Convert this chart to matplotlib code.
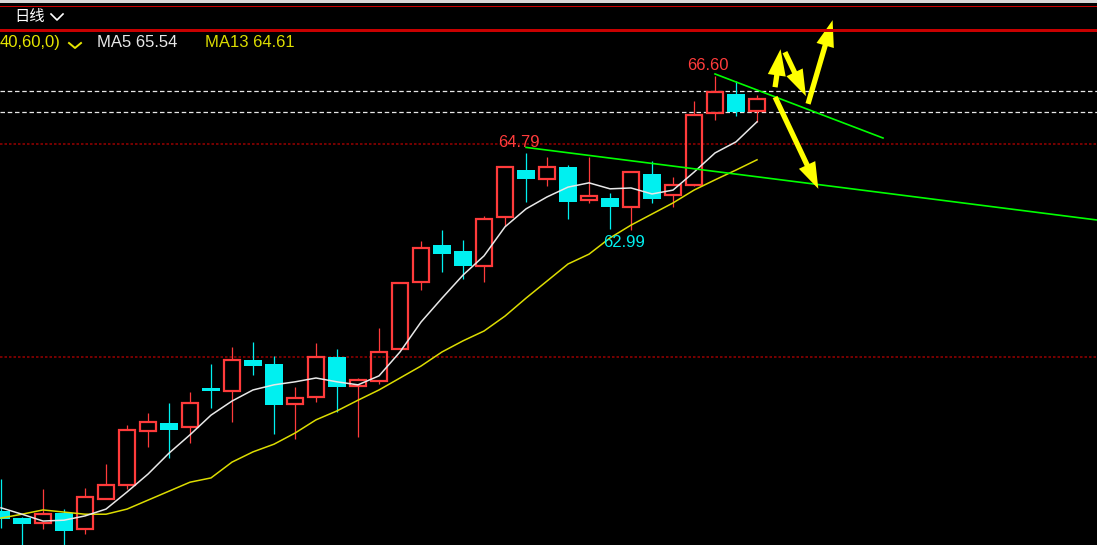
import numpy as np
import matplotlib
matplotlib.use("Agg")
import matplotlib.pyplot as plt
from matplotlib.patches import Rectangle
from matplotlib.lines import Line2D

# daily candles
opens = [56.41, 56.24, 56.12, 56.36, 55.98, 56.69, 57.01, 58.28, 58.47, 58.37,
         59.29, 59.22, 59.94, 59.85, 58.91, 59.07, 60.01, 59.33, 59.45, 60.20,
         61.77, 62.63, 62.49, 62.14, 63.29, 64.39, 64.18, 64.46, 63.69, 63.74,
         63.52, 64.30, 63.81, 64.04, 65.73, 66.17, 65.77]
highs = [57.15, 56.26, 56.92, 56.45, 56.94, 57.51, 58.42, 58.70, 58.93, 59.19,
         59.85, 60.25, 60.36, 60.04, 59.31, 60.34, 60.20, 59.52, 60.69, 61.77,
         62.73, 62.99, 62.75, 63.31, 64.46, 64.79, 64.70, 64.51, 64.70, 63.85,
         64.37, 64.60, 64.23, 66.01, 66.60, 66.48, 66.15]
lows = [56.01, 55.50, 55.98, 55.50, 55.87, 56.69, 56.92, 57.90, 57.65, 58.00,
        58.82, 58.49, 59.59, 58.21, 58.09, 58.96, 58.72, 58.14, 59.38, 60.20,
        61.58, 62.00, 61.84, 61.77, 63.08, 63.64, 64.02, 63.24, 63.62, 63.00,
        62.99, 63.62, 63.52, 64.02, 65.56, 65.66, 65.52]
closes = [56.22, 56.10, 56.33, 55.94, 56.73, 57.01, 58.30, 58.49, 58.30, 58.93,
          59.22, 59.94, 59.80, 58.89, 59.05, 60.01, 59.31, 59.47, 60.13, 61.74,
          62.56, 62.42, 62.14, 63.24, 64.46, 64.18, 64.46, 63.64, 63.78, 63.52,
          64.34, 63.71, 64.04, 65.68, 66.22, 65.75, 66.05]

ma5 = [56.48, 56.33, 56.17, 56.19, 56.29, 56.45, 56.85, 57.27, 57.76, 58.19,
       58.65, 58.98, 59.24, 59.36, 59.43, 59.52, 59.43, 59.36, 59.57, 60.13,
       60.83, 61.39, 61.93, 62.38, 63.06, 63.48, 63.76, 63.99, 64.09, 63.95,
       63.97, 63.83, 63.92, 64.34, 64.79, 65.05, 65.52]
ma13 = [56.24, 56.33, 56.43, 56.38, 56.33, 56.33, 56.45, 56.66, 56.87, 57.08,
        57.18, 57.55, 57.79, 57.97, 58.23, 58.54, 58.75, 59.00, 59.24, 59.52,
        59.80, 60.13, 60.39, 60.62, 60.97, 61.39, 61.79, 62.19, 62.42, 62.80,
        63.10, 63.36, 63.62, 63.92, 64.16, 64.39, 64.63]

# marked extremes
hi_mark_idx, hi_mark = [25, 34], ["64.79", "66.60"]
lo_mark_idx, lo_mark = [30], ["62.99"]

# price levels
dash_levels = [66.24, 65.75]
grid_levels = [65.0, 60.0]

# drawn trend lines (bar index, price)
trend1_x, trend1_y = [25.0, 52.19], [64.92, 63.22]
trend2_x, trend2_y = [34.0, 42.0], [66.64, 65.14]

# hand-drawn arrows: (tail idx, tail price, tip idx, tip price)
arrows = [(36.86, 66.33, 37.12, 67.22),
          (37.33, 67.15, 38.33, 66.12),
          (38.43, 65.94, 39.60, 67.90),
          (36.86, 66.10, 38.92, 63.95)]

RED = "#FF3B3B"
CYAN = "#00F0F0"
W, H = 1097, 545

fig = plt.figure(figsize=(W / 100, H / 100), dpi=100)
fig.patch.set_facecolor("black")
top_px = 31
ax = fig.add_axes([0, 0, 1, (H - top_px) / H])
ax.set_facecolor("black")
ax.set_xlim(-0.048, 52.19)
ax.set_ylim(55.609, 67.646)
ax.axis("off")

x = np.arange(len(opens))
o, h, l, c = map(np.array, (opens, highs, lows, closes))
up = c >= o
dn = ~up

# grid / levels
for lv in grid_levels:
    ax.axhline(lv, color="#8C0000", lw=1.2, ls=(0, (1.5, 1.2)), zorder=1)
for lv in dash_levels:
    ax.axhline(lv, color="#E8E8E8", lw=0.9, ls=(0, (3.6, 2.2)), zorder=1)

# down candles: filled cyan
ax.vlines(x[dn], l[dn], h[dn], color=CYAN, lw=0.9, zorder=2)
ax.bar(x[dn], (o - c)[dn], bottom=c[dn], width=0.86, color=CYAN, lw=0, zorder=3)

# up candles: hollow red
ax.vlines(x[up], c[up], h[up], color=RED, lw=0.9, zorder=2)
ax.vlines(x[up], l[up], o[up], color=RED, lw=0.9, zorder=2)
ax.bar(x[up], (c - o)[up], bottom=o[up], width=0.80, facecolor="none",
       edgecolor=RED, lw=1.6, zorder=3)

# moving averages
ax.plot(x, ma13, color="#DCDC00", lw=1.1, zorder=4)
ax.plot(x, ma5, color="#E8E8E8", lw=1.1, zorder=4)

# trend lines
ax.plot(trend1_x, trend1_y, color="#00FF00", lw=1.2, zorder=4)
ax.plot(trend2_x, trend2_y, color="#00FF00", lw=1.2, zorder=4)

# extreme labels
for i, s in zip(hi_mark_idx, hi_mark):
    ax.annotate(s, (i, h[i]), xytext=(-5, 4), textcoords="offset points",
                ha="center", va="baseline", color=RED, fontsize=12,
                family="Liberation Sans", zorder=5)
for i, s in zip(lo_mark_idx, lo_mark):
    ax.annotate(s, (i, l[i]), xytext=(-5, -4), textcoords="offset points",
                ha="center", va="top", color=CYAN, fontsize=12,
                family="Liberation Sans", zorder=5)

# arrows
for x0, y0, x1, y1 in arrows:
    ax.annotate("", xy=(x1, y1), xytext=(x0, y0), annotation_clip=False,
                arrowprops=dict(arrowstyle="simple,head_length=1.9,head_width=1.3,tail_width=0.38",
                                color="#FFFF00", lw=0, shrinkA=0, shrinkB=0,
                                mutation_scale=10), zorder=6)


def fy(py):
    return 1 - py / H


# header bar
fig.add_artist(Rectangle((0, fy(3)), 1, 3 / H, transform=fig.transFigure,
                         color="#D8D8D8", lw=0, zorder=0))
fig.add_artist(Rectangle((0, fy(7)), 1, 1.2 / H, transform=fig.transFigure,
                         color="#C80000", lw=0, zorder=7))
fig.add_artist(Rectangle((0, fy(31.5)), 1, 2.5 / H, transform=fig.transFigure,
                         color="#C80000", lw=0, zorder=5))

fig.text(14 / W, fy(17), "日线", color="white", fontsize=11,
         family=["Noto Sans CJK SC", "DejaVu Sans"], va="center", ha="left")
fig.add_artist(Line2D([51 / W, 57 / W, 63 / W], [fy(14), fy(20), fy(14)],
                      transform=fig.transFigure, color="white", lw=1.2))

# indicator legend
fig.text(0, fy(47), "40,60,0)", color="#E6E600", fontsize=12,
         family="Liberation Sans", va="baseline", ha="left")
fig.add_artist(Line2D([69 / W, 75 / W, 81 / W], [fy(43), fy(48), fy(43)],
                      transform=fig.transFigure, color="#E6E600", lw=1.4))
fig.text(97 / W, fy(47), "MA5 65.54", color="#E8E8E8", fontsize=12,
         family="Liberation Sans", va="baseline", ha="left")
fig.text(205 / W, fy(47), "MA13 64.61", color="#DCDC00", fontsize=12,
         family="Liberation Sans", va="baseline", ha="left")

fig.savefig("out.png", dpi=100, facecolor="black")
